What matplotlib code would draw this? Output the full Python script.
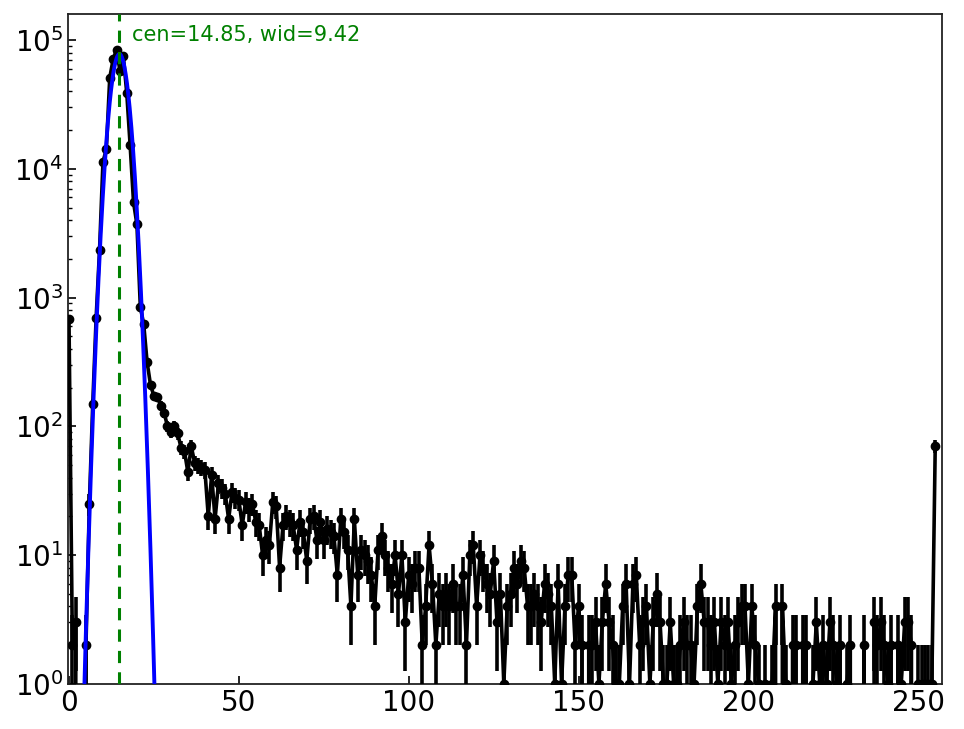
# -*- coding: utf-8 -*-
"""
直方图 + 高斯拟合（对数纵轴）

运行: python plot.py
输出: out.png
"""

import numpy as np
import matplotlib
matplotlib.use("Agg")
import matplotlib.pyplot as plt

# ── 数据 ─────────────────────────────────────────────────
# 每个 bin 的计数，bin 0..255
counts_0_29 = [680, 2, 3, 0, 0, 2, 25, 150, 700, 2350,
               11300, 14200, 51000, 71000, 84000, 58000, 75000, 39000, 15300, 5500,
               3700, 850, 620, 315, 210, 172, 170, 145, 128, 100]
counts_30_64 = [90, 100, 88, 68, 64, 44, 70, 52, 50, 48,
                46, 20, 42, 19, 36, 33, 30, 19, 31, 28,
                27, 17, 26, 23, 25, 18, 17, 10, 13, 12,
                26, 24, 8, 17, 20]
counts_65_97 = [18, 17, 11, 18, 15, 9, 19, 20, 13, 18,
                13, 16, 15, 14, 7, 19, 15, 11, 4, 19,
                7, 11, 10, 9, 7, 4, 11, 14, 10, 8,
                6, 10, 5]
counts_98_129 = [10, 3, 7, 6, 8, 8, 2, 4, 12, 6,
                 2, 5, 4, 5, 4, 6, 4, 4, 7, 2,
                 10, 12, 4, 10, 8, 6, 5, 9, 3, 5,
                 1, 4]
counts_130_161 = [5, 8, 6, 9, 8, 4, 4, 5, 4, 3,
                  6, 5, 4, 1, 6, 1, 4, 7, 7, 2,
                  4, 2, 0, 2, 2, 3, 1, 3, 6, 3,
                  2, 1]
counts_162_196 = [1, 4, 6, 1, 6, 7, 2, 3, 4, 1,
                  3, 5, 3, 1, 1, 3, 1, 1, 2, 3,
                  2, 2, 1, 4, 6, 3, 3, 2, 3, 1,
                  3, 2, 3, 1, 2]
counts_197_230 = [3, 4, 4, 1, 4, 2, 1, 0, 1, 0,
                  1, 4, 0, 4, 1, 0, 2, 2, 0, 2,
                  2, 0, 1, 3, 1, 2, 1, 3, 2, 1,
                  2, 0, 1, 2]
counts_231_255 = [0, 0, 0, 2, 0, 0, 3, 2, 3, 2,
                  1, 2, 0, 2, 1, 3, 3, 2, 0, 1,
                  1, 1, 1, 1, 70]

counts = np.array(counts_0_29 + counts_30_64 + counts_65_97 + counts_98_129
                  + counts_130_161 + counts_162_196 + counts_197_230
                  + counts_231_255, dtype=float)
bins = np.arange(len(counts))

# 拟合参数（图中标注）
fit_cen = 14.85
fit_wid = 9.42
fit_amp = 78000.0


# ── 画图 ─────────────────────────────────────────────────
def draw(out_path):
    fig = plt.figure(figsize=(9.64, 7.29), dpi=100)
    ax = fig.add_axes([0.0705, 0.062, 0.9067, 0.919])
    ax.set_yscale("log", nonpositive="clip")

    # 直方图 + 泊松误差
    ax.errorbar(bins, counts, yerr=np.sqrt(counts), fmt="o-", color="black",
                markersize=6, linewidth=2.6, elinewidth=2.6, capsize=0, zorder=3)

    # 高斯拟合
    xf = np.linspace(0, 255, 2000)
    yf = fit_amp * np.exp(-(xf - fit_cen) ** 2 / fit_wid)
    ax.plot(xf, yf, color="blue", linewidth=2.8, zorder=4)

    # 中心线
    ax.axvline(fit_cen, color="green", linestyle="--", linewidth=2.2,
               dashes=(4, 3), zorder=5)
    ax.text(fit_cen + 3.7, 1.1e5, f"cen={fit_cen:.2f}, wid={fit_wid:.2f}",
            color="green", fontsize=15, va="center", ha="left")

    ax.set_xlim(-0.3, 257)
    ax.set_ylim(1, 1.6e5)

    ax.tick_params(axis="both", which="both", direction="in",
                   top=False, right=False, labelsize=20)
    ax.tick_params(which="major", length=6, width=1.2)
    ax.tick_params(which="minor", length=3, width=1)
    for sp in ax.spines.values():
        sp.set_linewidth(1.3)
        sp.set_color("#222222")

    fig.savefig(out_path, dpi=100)
    plt.close(fig)


def main():
    draw("out.png")


if __name__ == "__main__":
    main()
